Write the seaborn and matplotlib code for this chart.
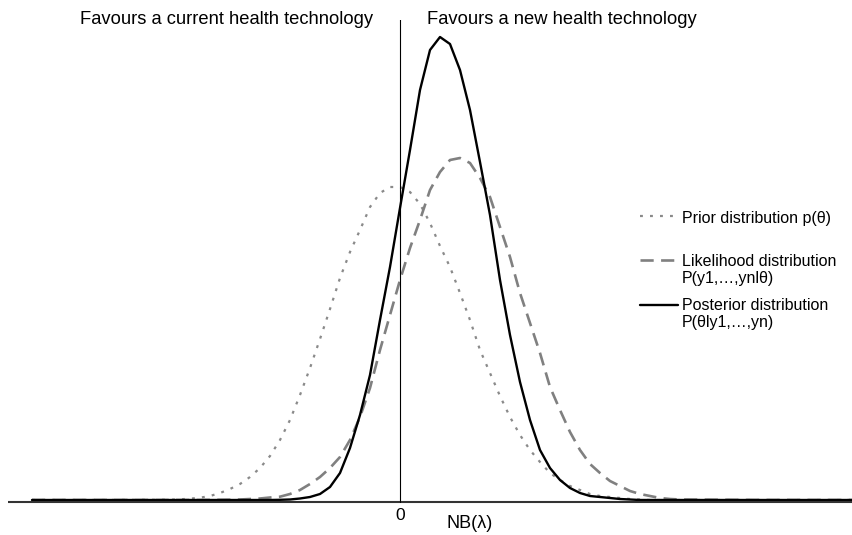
import matplotlib
matplotlib.use("Agg")
import matplotlib.pyplot as plt
import numpy as np
import pandas as pd
import seaborn as sns

# NB(lambda) sample points (units where 0 is the decision threshold)
nb_core = list(range(-23, 29))          # -23 ... 28
nb_left_tail = [-36.8, -30.0]
nb_right_tail = [36.0, 45.3]

# curve heights, one value per nb_core point
prior = [0.3, 0.7, 1.3, 2.3, 4, 7, 11, 16, 23, 32, 44, 60, 80, 105, 132, 161,
         191, 222, 248, 270, 293, 307, 313, 313, 308, 296, 277, 254, 233, 207,
         180, 150, 127, 104, 83, 65, 50, 38, 27, 20, 14, 10, 6, 4, 3, 2, 1, 0.5,
         0, 0, 0, 0]
likelihood = [0, 0, 0, 0, 0.1, 0.2, 0.3, 0.5, 1, 1.5, 2.5, 3.3, 6, 10, 16, 23,
              32, 43, 60, 83, 112, 150, 185, 220, 252, 280, 310, 328, 340, 342,
              337, 322, 303, 273, 243, 207, 177, 147, 113, 90, 68, 50, 36, 27,
              19, 14, 9, 6, 4, 2, 1, 0.5]
posterior = [0, 0, 0, 0, 0, 0, 0, 0, 0, 0, 0, 0.2, 0.5, 1.5, 3, 6, 13, 27, 52,
             85, 125, 180, 233, 292, 350, 410, 450, 463, 456, 430, 390, 338,
             285, 220, 165, 118, 80, 50, 32, 20, 12, 7, 4, 3, 2, 1, 0.5, 0, 0,
             0, 0, 0]

series = {
    "Prior": prior,
    "Likelihood": likelihood,
    "Posterior": posterior,
}
styles = {
    "Prior": dict(color="#8a8a8a", lw=1.6, dashes=(1.3, 3.2)),
    "Likelihood": dict(color="#808080", lw=1.9, dashes=(5.0, 2.8)),
    "Posterior": dict(color="black", lw=1.7, dashes=None),
}
legend_labels = {
    "Prior": "Prior distribution p(\u03b8)",
    "Likelihood": "Likelihood distribution\nP(y1,\u2026,ynl\u03b8)",
    "Posterior": "Posterior distribution\nP(\u03b8ly1,\u2026,yn)",
}

nb_all = nb_left_tail + nb_core + nb_right_tail
rows = []
for name, vals in series.items():
    full = [0, 0] + vals + [0, 0]
    for x, y in zip(nb_all, full):
        rows.append({"nb": x, "height": y, "curve": name})
df = pd.DataFrame(rows)

sns.set_style("white")
plt.rcParams["font.family"] = ["Liberation Sans", "DejaVu Sans"]
plt.rcParams["text.color"] = "black"
plt.rcParams["axes.labelcolor"] = "black"
plt.rcParams["xtick.color"] = "black"

W, H = 853, 535
fig = plt.figure(figsize=(W / 100, H / 100), dpi=100)
ax = fig.add_axes([8 / W, (H - 505) / H, (W - 8) / W, (505 - 20) / H])

for name in series:
    st = styles[name]
    sub = df[df["curve"] == name]
    sns.lineplot(data=sub, x="nb", y="height", ax=ax, color=st["color"],
                 linewidth=st["lw"], legend=False)
    line = ax.lines[-1]
    if st["dashes"] is not None:
        line.set_dashes(st["dashes"])

ax.set_xlim(-39.2, 45.3)
ax.set_ylim(-5, 480)
ax.axhline(-2, color="#333333", lw=1.5)
ax.plot([0, 0], [-2, 482], color="black", lw=0.8)
for s in ax.spines.values():
    s.set_visible(False)
ax.set_xticks([0])
ax.set_xticklabels(["0"], fontsize=12.5)
ax.tick_params(axis="x", length=0, pad=2)
ax.set_yticks([])
ax.set_xlabel("NB(\u03bb)", fontsize=13)
ax.xaxis.set_label_coords((470 - 8) / (W - 8), -0.02)
ax.xaxis.label.set_va("top")
ax.set_ylabel("")

# top annotations
fig.text(373 / W, 1 - 19 / H, "Favours a current health technology",
         ha="right", va="center", fontsize=13.2)
fig.text(427 / W, 1 - 19 / H, "Favours a new health technology",
         ha="left", va="center", fontsize=13.2)

# hand-placed legend
leg_y = {"Prior": 216, "Likelihood": 260, "Posterior": 305}
text_top = {"Prior": 210.5, "Likelihood": 254.5, "Posterior": 298.5}
for name in series:
    st = styles[name]
    y = 1 - leg_y[name] / H
    ln = plt.Line2D([640 / W, 678 / W], [y, y], transform=fig.transFigure,
                    color=st["color"], lw=st["lw"])
    if st["dashes"] is not None:
        ln.set_dashes(st["dashes"])
    fig.add_artist(ln)
    fig.text(682 / W, 1 - text_top[name] / H, legend_labels[name], ha="left",
             va="top", fontsize=11.5, linespacing=1.12)

fig.savefig("out.png", dpi=100)
